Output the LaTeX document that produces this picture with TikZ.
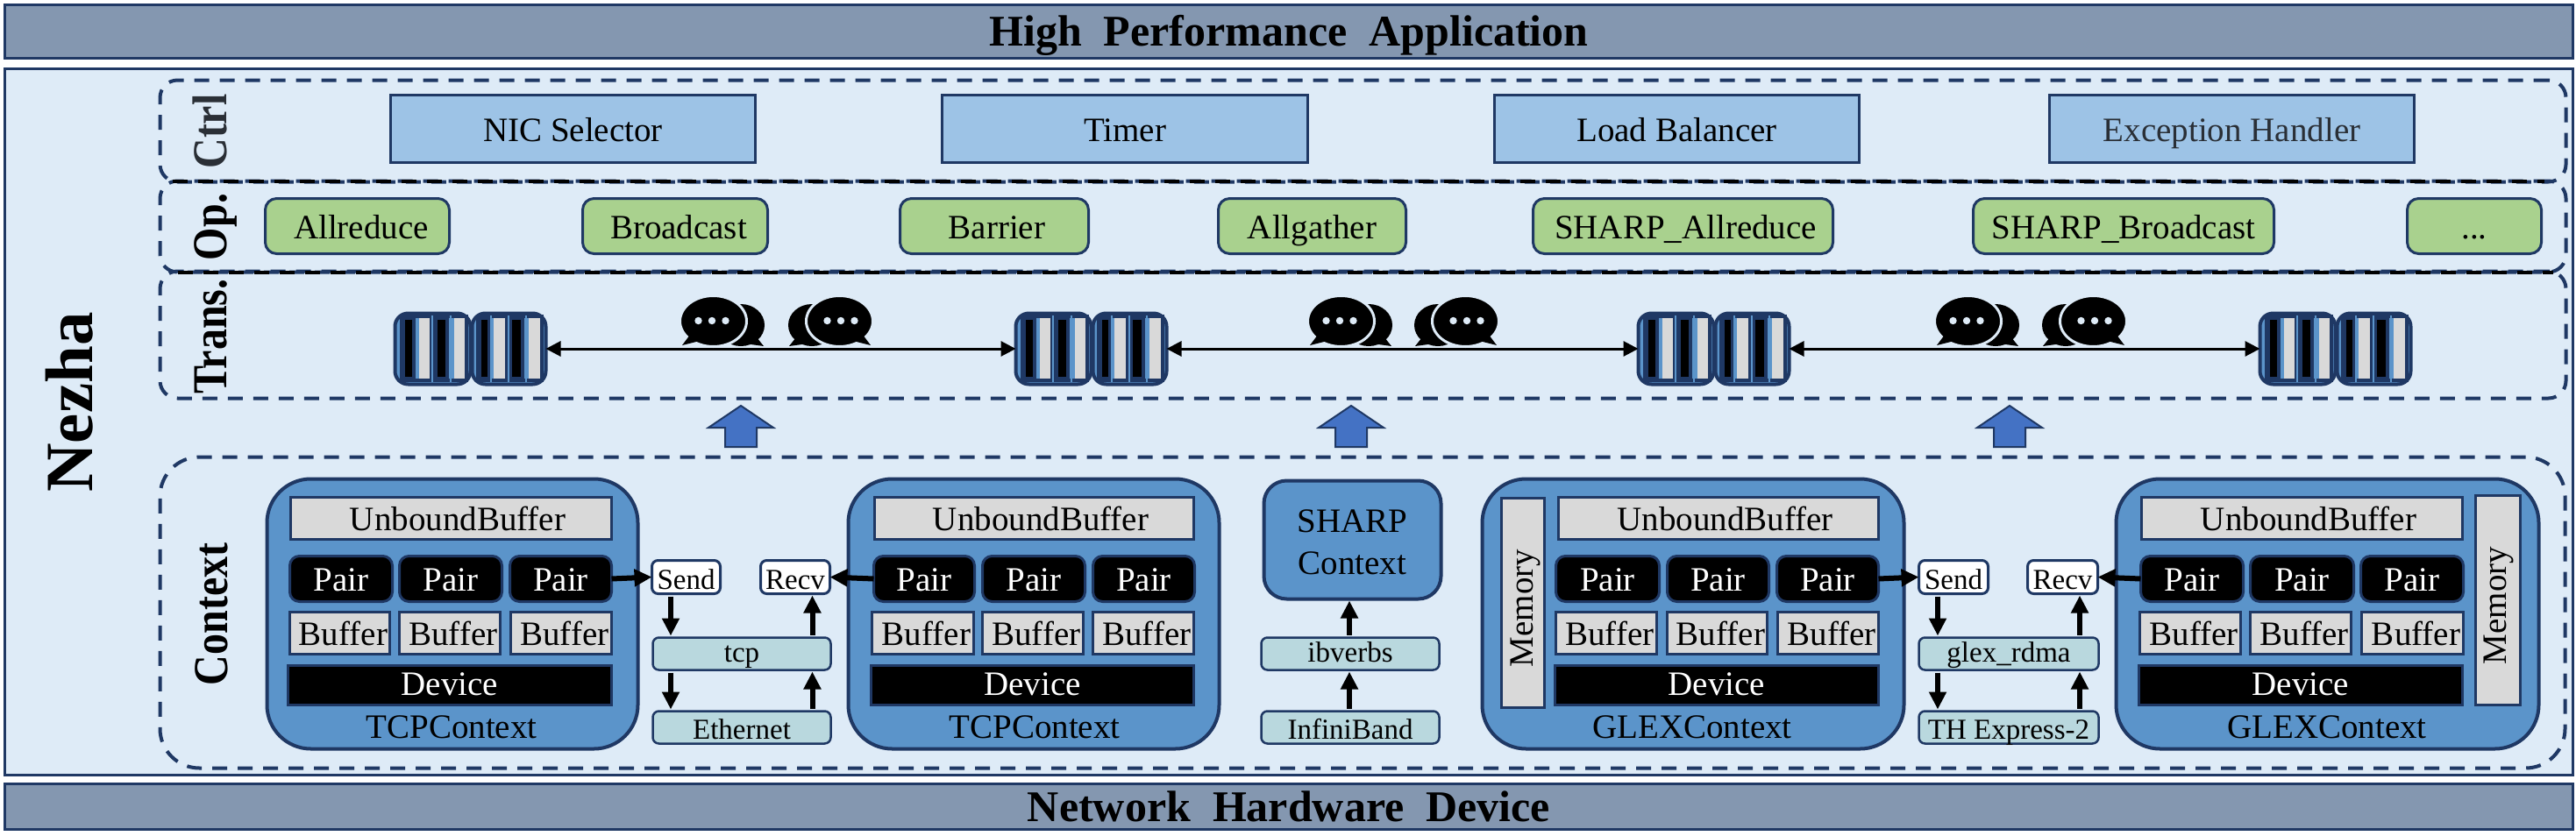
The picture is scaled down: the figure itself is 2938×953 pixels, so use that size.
\documentclass[tikz,border=0pt]{standalone}
\usepackage{fontspec}
\setmainfont{Liberation Serif}
\usetikzlibrary{arrows.meta}
\definecolor{navy}{HTML}{1F3864}
\definecolor{barfill}{HTML}{8497B0}
\definecolor{panel}{HTML}{DEEBF7}
\definecolor{ctrlfill}{HTML}{9DC3E6}
\definecolor{opfill}{HTML}{A9D18E}
\definecolor{ctxfill}{HTML}{5B94CA}
\definecolor{cellgray}{HTML}{D9D9D9}
\definecolor{teal}{HTML}{B9D8DE}
\definecolor{blockblue}{HTML}{4472C4}
\definecolor{softblack}{HTML}{2A2F36}
% name / edges x0 y0 x1 y1 (outer edges of the stroke) / text
\newcommand{\bx}[7]{%
  \pgfmathsetmacro\cx{(#3+#5)/2}\pgfmathsetmacro\cy{(#4+#6)/2}%
  \pgfmathsetmacro\bw{#5-#3-3}\pgfmathsetmacro\bh{#6-#4-3}%
  \node[#1,minimum width=\bw pt,minimum height=\bh pt] (#2) at (\cx,\cy) {#7};}
\newcommand{\nudge}[2]{\hspace*{#1pt}#2}
\newcommand{\tallside}[1]{\scalebox{1}[1.16]{#1}}
\tikzset{
  every node/.style={inner sep=0pt,outer sep=0pt},
  fnt/.style={font=\fontsize{39}{44}\selectfont,text height=28pt,text depth=0pt},
  fsm/.style={font=\fontsize{33}{38}\selectfont,text height=22pt,text depth=0pt},
  fbig/.style={font=\fontsize{50}{56}\selectfont\bfseries,text height=33pt,text depth=0pt},
  titlebar/.style={draw=navy,line width=3pt,fill=barfill,fbig},
  panelbox/.style={draw=navy,line width=2.5pt,fill=panel},
  zone/.style={draw=navy,line width=4pt,dash pattern=on 17pt off 12pt,rounded corners=20pt},
  bigzone/.style={zone,rounded corners=45pt},
  zoneline/.style={draw=black,line width=4pt,dash pattern=on 17pt off 12pt},
  ctrlbox/.style={draw=navy,line width=3pt,fill=ctrlfill,fnt,text height=29.5pt},
  opbox/.style={draw=navy,line width=3pt,fill=opfill,rounded corners=13pt,fnt},
  ctxbox/.style={draw=navy,line width=4pt,fill=ctxfill,rounded corners=50pt},
  sharpbox/.style={draw=navy,line width=4pt,fill=ctxfill,rounded corners=26pt,
    font=\fontsize{39}{48}\selectfont,align=center},
  graybox/.style={draw=navy,line width=3pt,fill=cellgray,fnt},
  pairbox/.style={draw=navy,line width=3pt,fill=black,text=white,rounded corners=11pt,fnt,text height=27pt},
  devbox/.style={draw=navy,line width=3pt,fill=black,text=white,fnt,text height=22.5pt},
  msgbox/.style={draw=navy,line width=3pt,fill=white,rounded corners=7pt,fsm,text height=28pt},
  netbox/.style={draw=navy,line width=2.5pt,fill=teal,rounded corners=7pt,fsm,text height=18pt},
  netboxlow/.style={netbox,text height=26pt},
  qbox/.style={draw=navy,line width=4pt,fill=ctxfill,rounded corners=15pt},
  sidetext/.style={font=\fontsize{48}{54}\selectfont\bfseries,rotate=90,anchor=base},
  memtext/.style={font=\fontsize{39}{44}\selectfont,rotate=90,anchor=base},
  ctxlabel/.style={font=\fontsize{39}{44}\selectfont,anchor=base},
  thick arrow/.style={draw=black,line width=6pt,-{Triangle[length=20pt,width=19pt]}},
  stack arrow/.style={thick arrow,shorten <=3pt,shorten >=2pt},
  link/.style={draw=black,line width=3pt,{Triangle[length=17pt,width=17pt]}-{Triangle[length=17pt,width=17pt]}},
  up block/.style={draw=navy,line width=2pt,fill=blockblue},
}
% queue bars: origin, black from-to, gray from-to
\newcommand{\bars}[5]{%
  \draw[navy,line width=4pt] (#1+#2-2,361) rectangle (#1+#5+2,434);
  \filldraw[draw=navy,line width=4pt,fill=black] (#1+#2,363) rectangle (#1+#3,432);
  \fill[cellgray] (#1+#4,363) rectangle (#1+#5,432);}
\newcommand{\queue}[2]{%
  \pgfmathsetmacro\qa{#1}\pgfmathsetmacro\qb{#1+88}\pgfmathsetmacro\qc{#1+176}%
  \bx{qbox}{#2a}{\qa}{356}{\qb+1}{440}{}
  \bx{qbox}{#2b}{\qb-1}{356}{\qc}{440}{}
  \bars{\qa}{11}{23}{29}{41}
  \bars{\qa}{48}{61}{69}{81}
  \bars{\qb}{10}{21}{26}{39}
  \bars{\qb}{45}{59}{66}{79}
  \draw[ctxfill,line width=1.5pt] (\qa+44,360) -- (\qa+44,436) (\qa+65,360) -- (\qa+65,436)
    (\qb+23,360) -- (\qb+23,436) (\qb+43,360) -- (\qb+43,436) (\qb+63,360) -- (\qb+63,436);}
% speech icon: x of outer edge of front bubble, direction
\newcommand{\chat}[2]{%
  \begin{scope}[shift={(#1,0)},xscale=#2]
    \fill[black] (68,371) ellipse [x radius=27,y radius=24];
    \fill[black] (82,380) -- (94,395) -- (72,392) -- cycle;
    \filldraw[draw=panel,line width=3pt,fill=black] (36.5,366.5) ellipse [x radius=38,y radius=29];
    \fill[black] (10,382) -- (1,394) -- (25,388) -- cycle;
    \fill[panel] (19.5,366) circle [radius=4.2] (35,366) circle [radius=4.2] (50.5,366) circle [radius=4.2];
  \end{scope}}
\newcommand{\blockup}[1]{%
  \draw[up block] (#1,463) -- (#1+37,488) -- (#1+18,488) -- (#1+18,510) -- (#1-18,510) -- (#1-18,488) -- (#1-37,488) -- cycle;}
% context internals: name prefix, UB x0 x1, pairs, buffers, device x0
\newcommand{\ctxbody}[6]{%
  \bx{graybox}{#1ub}{#2}{566}{#3}{617}{\nudge{15}{UnboundBuffer}}
  \foreach \n/\a/\b in {#4}{\bx{pairbox}{#1p\n}{\a}{633}{\b}{688}{Pair}}
  \foreach \n/\a/\b in {#5}{\bx{graybox}{#1b\n}{\a}{697}{\b}{748}{\nudge{8}{Buffer}}}
  \bx{devbox}{#1dev}{#6}{758}{#3}{806}{Device}}
\begin{document}
\begin{tikzpicture}[x=1pt,y=-1pt]
\useasboundingbox (0,0) rectangle (2938,953);
\bx{titlebar}{app}{4}{4}{2936}{68}{High~~Performance~~Application}
\bx{panelbox}{nezha}{4}{77}{2936}{886}{}
\bx{titlebar}{hw}{4}{893}{2936}{948}{Network~~Hardware~~Device}
\node[font=\fontsize{77}{84}\selectfont\bfseries,rotate=90,anchor=base] (nezhat) at (105,459) {Nezha};
% zones
\bx{zone}{ctrl}{181}{90}{2928}{209}{}
\bx{zone}{ops}{181}{205}{2928}{312}{}
\bx{zone}{trans}{181}{308}{2928}{456}{}
\bx{bigzone}{ctx}{181}{520}{2927}{878}{}
\draw[zoneline] ([xshift=14pt]ops.north west) -- ([xshift=-25pt]ops.north east);
\draw[zoneline] ([xshift=20pt]ops.south west) -- ([xshift=-15pt]ops.south east);
\node[sidetext,text=softblack] (lctrl) at (258,150) {\tallside{Ctrl}};
\node[sidetext] (lop) at (258,259) {\tallside{Op.}};
\node[sidetext] (ltrans) at (258,384) {\tallside{Trans.}};
\node[sidetext] (lctx) at (259,701) {\tallside{Context}};
% control
\bx{ctrlbox}{nic}{444}{107}{863}{187}{NIC Selector}
\bx{ctrlbox}{timer}{1073}{107}{1493}{187}{Timer}
\bx{ctrlbox}{load}{1703}{107}{2122}{187}{Load Balancer}
\bx{ctrlbox}{exc}{2336}{107}{2755}{187}{\textcolor{softblack}{Exception Handler}}
% operations
\bx{opbox}{allred}{301}{225}{514}{291}{\nudge{9}{Allreduce}}
\bx{opbox}{bcast}{663}{225}{877}{291}{\nudge{8}{Broadcast}}
\bx{opbox}{barrier}{1025}{225}{1243}{291}{\nudge{6}{Barrier}}
\bx{opbox}{allg}{1388}{225}{1605}{291}{Allgather}
\bx{opbox}{shall}{1747}{225}{2092}{291}{\nudge{6}{SHARP\_Allreduce}}
\bx{opbox}{shbc}{2249}{225}{2595}{291}{SHARP\_Broadcast}
\bx{opbox}{more}{2744}{225}{2900}{291}{...}
% transport
\queue{449}{qA}
\queue{1157}{qB}
\queue{1867}{qC}
\queue{2576}{qD}
\draw[link] (qAb.east) -- (qBa.west);
\draw[link] (qBb.east) -- (qCa.west);
\draw[link] (qCb.east) -- (qDa.west);
\chat{777}{1}\chat{994}{-1}
\chat{1493}{1}\chat{1708}{-1}
\chat{2208}{1}\chat{2424}{-1}
\blockup{845}\blockup{1541}\blockup{2292}
% TCP 1
\bx{ctxbox}{t1}{303}{545}{729}{856}{}
\ctxbody{ta}{330}{699}{1/329/449,2/454/574,3/580/699}{1/329/446,2/454/572,3/581/699}{327}
\node[ctxlabel] (t1l) at (515,842) {TCPContext};
\bx{msgbox}{sendt}{742}{638}{823}{679}{Send}
\bx{msgbox}{recvt}{866}{638}{948}{679}{Recv}
\bx{netbox}{tcp}{743}{726}{949}{766}{tcp}
\bx{netboxlow}{eth}{743}{810}{949}{850}{Ethernet}
% TCP 2
\bx{ctxbox}{t2}{966}{545}{1392}{856}{}
\ctxbody{tb}{996}{1363}{1/995/1113,2/1119/1239,3/1245/1364}{1/993/1112,2/1119/1237,3/1245/1363}{992}
\node[ctxlabel] (t2l) at (1180,842) {TCPContext};
% SHARP
\bx{sharpbox}{sharp}{1440}{547}{1645}{685}{\rule{0pt}{32pt}SHARP\\Context}
\bx{netbox}{ibv}{1437}{726}{1643}{766}{ibverbs}
\bx{netboxlow}{ib}{1437}{810}{1643}{850}{InfiniBand}
% GLEX 1
\bx{ctxbox}{g1}{1689}{545}{2173}{856}{}
\bx{graybox}{m1}{1711}{567}{1763}{809}{}
\node[memtext] (m1t) at (1748,694) {Memory};
\ctxbody{ga}{1776}{2144}{1/1773/1894,2/1900/2019,3/2025/2144}{1/1773/1891,2/1900/2017,3/2026/2144}{1772}
\node[ctxlabel] (g1l) at (1930,842) {GLEXContext};
\bx{msgbox}{sendg}{2187}{638}{2269}{679}{Send}
\bx{msgbox}{recvg}{2311}{638}{2394}{679}{Recv}
\bx{netbox}{glex}{2187}{726}{2395}{766}{glex\_rdma}
\bx{netboxlow}{thx}{2187}{810}{2395}{850}{TH Express-2}
% GLEX 2
\bx{ctxbox}{g2}{2412}{545}{2897}{856}{}
\bx{graybox}{m2}{2822}{564}{2876}{806}{}
\node[memtext] (m2t) at (2858,691) {Memory};
\ctxbody{gb}{2441}{2810}{1/2440/2560,2/2565/2686,3/2691/2811}{1/2439/2557,2/2565/2683,3/2692/2811}{2438}
\node[ctxlabel] (g2l) at (2654,842) {GLEXContext};
% arrows
\coordinate (x1) at (765,0); \coordinate (x2) at (926.5,0);
\coordinate (x3) at (1539,0); \coordinate (x4) at (2210,0); \coordinate (x5) at (2372,0);
\draw[thick arrow] (tap3.east) -- (sendt.west);
\draw[thick arrow] (tbp1.west) -- (recvt.east);
\draw[thick arrow] (gap3.east) -- (sendg.west);
\draw[thick arrow] (gbp1.west) -- (recvg.east);
\draw[stack arrow] (sendt.south -| x1) -- (tcp.north -| x1);
\draw[stack arrow] (tcp.south -| x1) -- (eth.north -| x1);
\draw[stack arrow] (eth.north -| x2) -- (tcp.south -| x2);
\draw[stack arrow] (tcp.north -| x2) -- (recvt.south -| x2);
\draw[stack arrow] (ib.north -| x3) -- (ibv.south -| x3);
\draw[stack arrow] (ibv.north -| x3) -- (sharp.south -| x3);
\draw[stack arrow] (sendg.south -| x4) -- (glex.north -| x4);
\draw[stack arrow] (glex.south -| x4) -- (thx.north -| x4);
\draw[stack arrow] (thx.north -| x5) -- (glex.south -| x5);
\draw[stack arrow] (glex.north -| x5) -- (recvg.south -| x5);
\end{tikzpicture}
\end{document}
